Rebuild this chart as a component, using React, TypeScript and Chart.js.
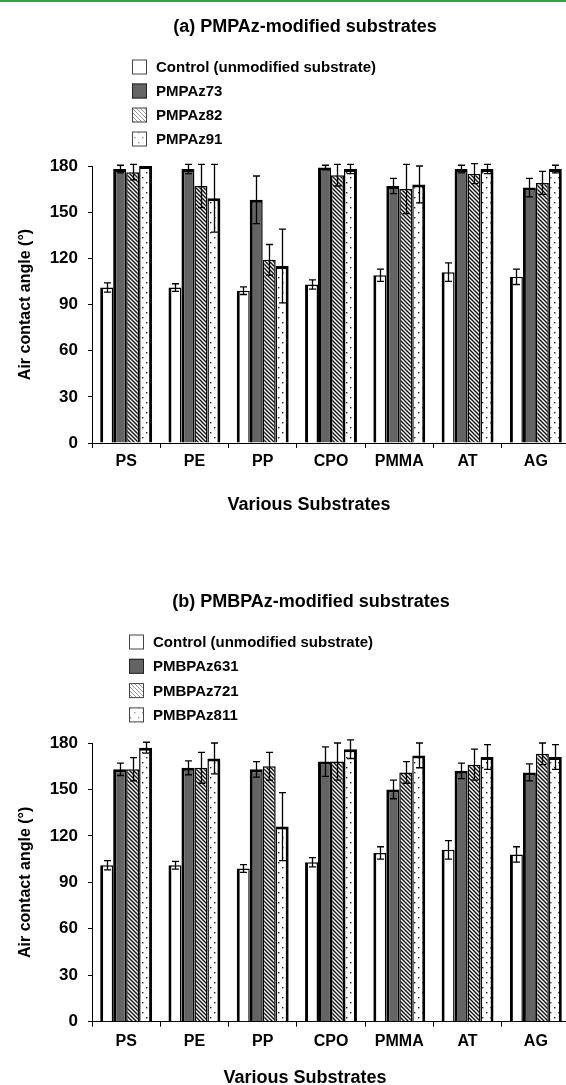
import React, { useEffect, useRef } from 'react';
import { Chart, registerables } from 'chart.js';

Chart.register(...registerables);

const FONT = '"Liberation Sans", Arial, Helvetica, sans-serif';

const categories = ['PS', 'PE', 'PP', 'CPO', 'PMMA', 'AT', 'AG'];
const yTicks = [0, 30, 60, 90, 120, 150, 180];
const xAxisTitle = 'Various Substrates';
const yAxisTitle = 'Air contact angle (°)';

// (a) PMPAz-modified substrates
const titleA = '(a) PMPAz-modified substrates';
const seriesA = ['Control (unmodified substrate)', 'PMPAz73', 'PMPAz82', 'PMPAz91'];
const controlA = [101, 101, 99, 103, 109, 111, 108];
const controlAErr = [3, 2.5, 2.5, 3, 4, 6, 5];
const pmpaz73 = [178, 178, 158, 179, 167, 178, 166];
const pmpaz73Err = [2.5, 3, 15.5, 1.5, 5, 2.5, 6];
const pmpaz82 = [176, 167, 119, 174, 165, 175, 169];
const pmpaz82Err = [5, 14, 10, 7, 16, 6.5, 7.5];
const pmpaz91 = [180, 159, 115, 178, 168, 178, 178];
const pmpaz91Err = [0, 22, 24, 3, 12, 3, 2.5];

// (b) PMBPAz-modified substrates
const titleB = '(b) PMBPAz-modified substrates';
const seriesB = ['Control (unmodified substrate)', 'PMBPAz631', 'PMBPAz721', 'PMBPAz811'];
const controlB = [101, 101, 99, 103, 109, 111, 108];
const controlBErr = [3, 2.5, 2.5, 3, 4, 6, 5];
const pmbpaz631 = [163, 164, 163, 168, 150, 162, 161];
const pmbpaz631Err = [4, 4.5, 5, 9.5, 6, 5, 5.5];
const pmbpaz721 = [163, 164, 165, 168, 161, 166, 173];
const pmbpaz721Err = [7.5, 10, 9, 12, 7, 10, 7];
const pmbpaz811 = [177, 170, 126, 176, 172, 171, 171];
const pmbpaz811Err = [3.5, 10, 22, 6, 8, 8, 8];

function makeHatch(line: string, bg: string, lw: number) {
  const c = document.createElement('canvas');
  c.width = 4;
  c.height = 4;
  const g = c.getContext('2d')!;
  g.fillStyle = bg;
  g.fillRect(0, 0, 4, 4);
  g.strokeStyle = line;
  g.lineWidth = lw;
  g.beginPath();
  g.moveTo(-1, -1);
  g.lineTo(5, 5);
  g.moveTo(3, -1);
  g.lineTo(5, 1);
  g.moveTo(-1, 3);
  g.lineTo(1, 5);
  g.stroke();
  return g.createPattern(c, 'repeat')!;
}

function makeDots(dot: string) {
  const c = document.createElement('canvas');
  c.width = 8;
  c.height = 10;
  const g = c.getContext('2d')!;
  g.fillStyle = '#ffffff';
  g.fillRect(0, 0, 8, 10);
  g.fillStyle = dot;
  g.fillRect(2, 2, 1.4, 1.4);
  g.fillRect(6, 7, 1.4, 1.4);
  return g.createPattern(c, 'repeat')!;
}

interface Geo {
  titleX: number;
  titleY: number;
  legendY: number;
  legendGap: number;
  boxX: number;
  textX: number;
  padTop: number;
  xHeight: number;
  xTickPad: number;
  xTitleX: number;
  xTitleY: number;
}

function buildChart(
  canvas: HTMLCanvasElement,
  title: string,
  names: string[],
  values: number[][],
  errors: number[][],
  geo: Geo
) {
  const dark = '#646464';
  const hatch = makeHatch('#111', '#fff', 1.4);
  const dots = makeDots('#222');
  const legendHatch = makeHatch('#9a9a9a', '#fff', 1);
  const legendDots = makeDots('#999');
  const fills = ['#ffffff', dark, hatch, dots];
  const legendFills = ['#ffffff', dark, legendHatch, legendDots];
  const borders = [
    { left: 3, top: 1.5, right: 1.5, bottom: 0 },
    { left: 3, top: 3, right: 1.5, bottom: 0 },
    { left: 1.5, top: 1.5, right: 1.5, bottom: 0 },
    { left: 1.5, top: 3, right: 3, bottom: 0 },
  ];

  const headerPlugin = {
    id: 'header',
    afterDraw(chart: any) {
      const ctx = chart.ctx;
      ctx.save();
      ctx.fillStyle = '#000';
      ctx.font = `bold 18px ${FONT}`;
      ctx.textAlign = 'center';
      ctx.textBaseline = 'middle';
      ctx.fillText(title, geo.titleX, geo.titleY);
      ctx.fillText(xAxisTitle, geo.xTitleX, geo.xTitleY);
      ctx.font = `bold 15px ${FONT}`;
      ctx.textAlign = 'left';
      names.forEach((name, i) => {
        const y = geo.legendY + i * geo.legendGap;
        ctx.fillStyle = legendFills[i];
        ctx.fillRect(geo.boxX, y - 7.5, 15, 15);
        ctx.strokeStyle = i === 1 ? '#222' : '#444';
        ctx.lineWidth = 1;
        ctx.strokeRect(geo.boxX + 0.5, y - 7, 14, 14);
        ctx.fillStyle = '#000';
        ctx.fillText(name, geo.textX, y + 1);
      });
      ctx.restore();
    },
  };

  const errorPlugin = {
    id: 'errorbars',
    afterDatasetsDraw(chart: any) {
      const ctx = chart.ctx;
      const ys = chart.scales.y;
      ctx.save();
      ctx.strokeStyle = '#000';
      ctx.lineWidth = 1.3;
      chart.data.datasets.forEach((ds: any, di: number) => {
        const meta = chart.getDatasetMeta(di);
        meta.data.forEach((bar: any, i: number) => {
          const e = errors[di][i];
          if (!e) return;
          const v = ds.data[i];
          const yt = ys.getPixelForValue(v + e);
          const yb = ys.getPixelForValue(v - e);
          const x = Math.round(bar.x) + 0.5;
          ctx.beginPath();
          ctx.moveTo(x, yt);
          ctx.lineTo(x, yb);
          ctx.moveTo(x - 3.5, yt);
          ctx.lineTo(x + 3.5, yt);
          ctx.moveTo(x - 3.5, yb);
          ctx.lineTo(x + 3.5, yb);
          ctx.stroke();
        });
      });
      ctx.restore();
    },
  };

  return new Chart(canvas, {
    type: 'bar',
    data: {
      labels: categories,
      datasets: names.map((n, i) => ({
        label: n,
        data: values[i],
        backgroundColor: fills[i] as any,
        borderColor: '#000',
        borderWidth: borders[i] as any,
        borderSkipped: 'start' as any,
        categoryPercentage: 0.76,
        barPercentage: 1,
      })),
    },
    options: {
      responsive: false,
      animation: false,
      devicePixelRatio: 1,
      layout: { padding: { top: geo.padTop, right: 10, left: 0, bottom: 0 } },
      plugins: {
        legend: { display: false },
        title: { display: false },
        tooltip: { enabled: false },
      },
      scales: {
        x: {
          grid: {
            display: true,
            drawOnChartArea: false,
            drawTicks: true,
            tickLength: 5,
            color: '#000',
            offset: true,
          },
          border: { display: true, color: '#000', width: 1 },
          ticks: {
            color: '#000',
            padding: geo.xTickPad,
            font: { family: FONT, size: 16, weight: 'bold' },
            maxRotation: 0,
            autoSkip: false,
          },
          title: { display: false },
          afterFit: (s: any) => {
            s.height = geo.xHeight;
          },
        } as any,
        y: {
          min: 0,
          max: 180,
          afterBuildTicks: (s: any) => {
            s.ticks = yTicks.map((v) => ({ value: v }));
          },
          grid: {
            display: true,
            drawOnChartArea: false,
            drawTicks: true,
            tickLength: 4,
            color: '#000',
          },
          border: { display: true, color: '#000', width: 1 },
          ticks: {
            color: '#000',
            padding: 10,
            font: { family: FONT, size: 17, weight: 'bold' },
          },
          title: {
            display: true,
            text: yAxisTitle,
            color: '#000',
            font: { family: FONT, size: 16, weight: 'bold' },
            padding: { top: 16.4, bottom: 0 },
          },
          afterFit: (s: any) => {
            s.width = 92;
          },
        } as any,
      },
    },
    plugins: [headerPlugin, errorPlugin],
  });
}

export default function App() {
  const refA = useRef<HTMLCanvasElement>(null);
  const refB = useRef<HTMLCanvasElement>(null);

  useEffect(() => {
    document.body.style.margin = '0';
    document.body.style.overflow = 'hidden';
    document.documentElement.style.overflow = 'hidden';
    const a = buildChart(
      refA.current!,
      titleA,
      seriesA,
      [controlA, pmpaz73, pmpaz82, pmpaz91],
      [controlAErr, pmpaz73Err, pmpaz82Err, pmpaz91Err],
      {
        titleX: 305,
        titleY: 27,
        legendY: 67,
        legendGap: 24,
        boxX: 132,
        textX: 156,
        padTop: 166,
        xHeight: 100,
        xTickPad: 4.4,
        xTitleX: 309,
        xTitleY: 505,
      }
    );
    const b = buildChart(
      refB.current!,
      titleB,
      seriesB,
      [controlB, pmbpaz631, pmbpaz721, pmbpaz811],
      [controlBErr, pmbpaz631Err, pmbpaz721Err, pmbpaz811Err],
      {
        titleX: 311,
        titleY: 57,
        legendY: 97,
        legendGap: 24.3,
        boxX: 129,
        textX: 153,
        padTop: 198,
        xHeight: 68.3,
        xTickPad: 5.4,
        xTitleX: 305,
        xTitleY: 533,
      }
    );
    return () => {
      a.destroy();
      b.destroy();
    };
  }, []);

  return (
    <div
      style={{
        position: 'relative',
        width: 566,
        height: 1085,
        overflow: 'hidden',
        background: '#fff',
      }}
    >
      <div style={{ position: 'absolute', left: 0, top: 0, width: 580, height: 543 }}>
        <canvas ref={refA} width={580} height={543} style={{ display: 'block' }} />
      </div>
      <div style={{ position: 'absolute', left: 0, top: 545, width: 580, height: 545 }}>
        <canvas ref={refB} width={580} height={545} style={{ display: 'block' }} />
      </div>
      <div
        style={{
          position: 'absolute',
          left: 0,
          top: 0,
          width: 566,
          height: 2,
          background: '#34a045',
        }}
      />
    </div>
  );
}
